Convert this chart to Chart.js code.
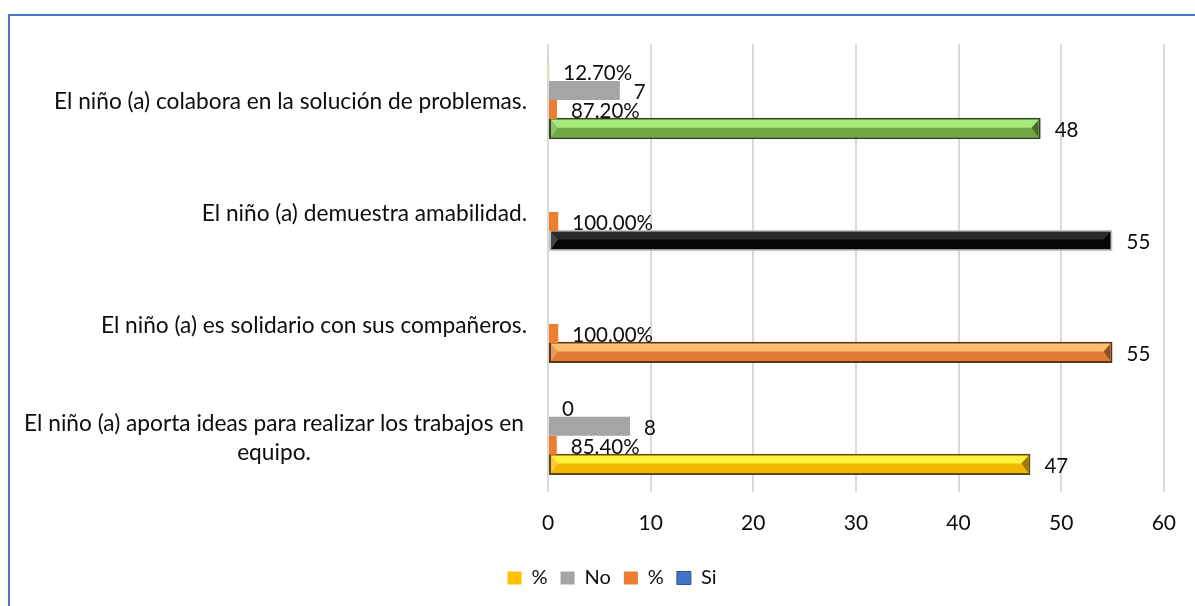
<!DOCTYPE html>
<html>
<head>
<meta charset="utf-8">
<script src="https://cdn.jsdelivr.net/npm/chart.js@4/dist/chart.umd.min.js"></script>
<style>
  html, body { margin: 0; padding: 0; background: #fff; overflow: hidden; }
  #frame { position: absolute; left: 8px; top: 14px; width: 1400px; height: 800px;
           border-top: 2px solid #4a78c8; border-left: 2px solid #4a78c8; }
  #chart { position: absolute; left: 0; top: 0; }
</style>
</head>
<body>
<div id="frame"></div>
<canvas id="chart" width="1195" height="606"></canvas>
<script>
// ─── Data ─────────────────────────────────────────────
var categories = [
    ['El niño (a) colabora en la solución de problemas.'],
    ['El niño (a) demuestra amabilidad.'],
    ['El niño (a) es solidario con sus compañeros.'],
    ['El niño (a) aporta ideas para realizar los trabajos en', 'equipo.']
];
var pctNo  = [0.127, null, null, 0];
var noVals = [7, null, null, 8];
var pctSi  = [0.872, 1, 1, 0.854];
var siVals = [48, 55, 55, 47];
var xTicks = [0, 10, 20, 30, 40, 50, 60];

// ─── Styles ───────────────────────────────────────────
var FONT = 'Lato';
var siFill   = ['#6ea847', '#060606', '#e07a34', '#f2b800'];
var siLight  = ['#a6ea7c', '#2a2a2a', '#ffbf6e', '#fff23a'];
var siBorder = ['#2e4a1c', '#c4c4c4', '#5c3414', '#5e4a10'];

function fmtPct(v) {
    if (v === 0) return '0';
    return (v * 100).toFixed(2) + '%';
}

// bevel highlight on the "Si" bars
var bevelPlugin = {
    id: 'bevel',
    afterDatasetDraw: function(chart, args) {
        if (args.index !== 3) return;
        var ctx = chart.ctx;
        args.meta.data.forEach(function(bar, i) {
            var p = bar.getProps(['x', 'y', 'base', 'height'], true);
            var bw = 2;
            var top = p.y - p.height / 2 + bw, bottom = p.y + p.height / 2 - bw;
            var left = p.base + bw, right = p.x - bw;
            var mid = top + (bottom - top) * 0.45;
            var t = 7;
            ctx.save();
            ctx.fillStyle = siLight[i];
            ctx.beginPath();
            ctx.moveTo(left, top);
            ctx.lineTo(right, top);
            ctx.lineTo(right - t, mid);
            ctx.lineTo(left + t, mid);
            ctx.closePath();
            ctx.fill();
            // end triangles
            ctx.globalAlpha = 0.35;
            ctx.fillStyle = '#000';
            ctx.beginPath();
            ctx.moveTo(right, top);
            ctx.lineTo(right, bottom);
            ctx.lineTo(right - t, mid);
            ctx.closePath();
            ctx.fill();
            ctx.globalAlpha = 0.25;
            ctx.fillStyle = '#fff';
            ctx.beginPath();
            ctx.moveTo(left, top);
            ctx.lineTo(left, bottom);
            ctx.lineTo(left + t, mid);
            ctx.closePath();
            ctx.fill();
            ctx.restore();
        });
    }
};

// value labels + category labels
var labelsPlugin = {
    id: 'labels',
    afterDatasetsDraw: function(chart) {
        var ctx = chart.ctx;
        ctx.save();
        ctx.font = '20.5px ' + FONT;
        ctx.fillStyle = '#0d0d0d';
        ctx.textBaseline = 'middle';
        ctx.textAlign = 'left';
        chart.data.datasets.forEach(function(ds, di) {
            var meta = chart.getDatasetMeta(di);
            meta.data.forEach(function(bar, i) {
                var v = ds.data[i];
                if (v === null) return;
                var p = bar.getProps(['x', 'y'], true);
                var txt = ds.isPct ? fmtPct(v) : String(v);
                ctx.fillText(txt, p.x + 14, p.y + 2);
            });
        });

        // category labels on the left
        ctx.font = '22.7px ' + FONT;
        var ys = chart.scales.y;
        var left = chart.chartArea.left;
        categories.forEach(function(lines, i) {
            var cy = ys.getPixelForValue(i) + 2;
            var lh = 29;
            if (lines.length === 1) {
                ctx.textAlign = 'right';
                ctx.fillText(lines[0], left - 21, cy);
            } else {
                ctx.textAlign = 'center';
                var y0 = cy - (lines.length - 1) * lh / 2;
                lines.forEach(function(l, k) { ctx.fillText(l, left - 274, y0 + k * lh); });
            }
        });
        ctx.restore();
    }
};

// nudge the legend so it sits where the original one does
var legendShift = {
    id: 'legendShift',
    afterLayout: function(chart) {
        chart.legend.left += 29;
        chart.legend.right += 29;
    }
};

new Chart(document.getElementById('chart').getContext('2d'), {
    type: 'bar',
    data: {
        labels: categories.map(function(c) { return c.join(' '); }),
        datasets: [
            { label: '%',  data: pctNo,  isPct: true, backgroundColor: '#ffc000' },
            { label: 'No', data: noVals, backgroundColor: '#a5a5a5' },
            { label: '%',  data: pctSi,  isPct: true, backgroundColor: '#ed7d31' },
            { label: 'Si', data: siVals, backgroundColor: siFill, borderColor: siBorder,
              borderWidth: 2, borderSkipped: false, barPercentage: 1.12 }
        ]
    },
    options: {
        indexAxis: 'y',
        responsive: false,
        animation: false,
        events: [],
        layout: { padding: { top: 44, right: 29, bottom: 8, left: 0 } },
        datasets: { bar: { categoryPercentage: 0.68, barPercentage: 1.0 } },
        plugins: {
            tooltip: { enabled: false },
            legend: {
                position: 'bottom',
                labels: {
                    font: { family: FONT, size: 20 },
                    color: '#0d0d0d',
                    boxWidth: 14, boxHeight: 13, padding: 13,
                    generateLabels: function(chart) {
                        var items = Chart.defaults.plugins.legend.labels.generateLabels(chart);
                        items.forEach(function(it) {
                            if (it.datasetIndex === 3) { it.fillStyle = '#4472c4'; it.strokeStyle = '#2f5597'; it.lineWidth = 1; }
                            else { it.lineWidth = 0; }
                        });
                        return items;
                    }
                }
            }
        },
        scales: {
            x: {
                min: 0, max: 60,
                afterBuildTicks: function(s) { s.ticks = xTicks.map(function(v) { return { value: v }; }); },
                grid: { color: '#d9d9d9', lineWidth: 2, drawTicks: false },
                border: { display: false },
                ticks: { font: { family: FONT, size: 21 }, color: '#0d0d0d', padding: 19 }
            },
            y: {
                grid: { display: false },
                border: { display: false },
                ticks: { display: false },
                afterFit: function(s) { s.width = 548; }
            }
        }
    },
    plugins: [bevelPlugin, labelsPlugin, legendShift]
});
</script>
</body>
</html>
